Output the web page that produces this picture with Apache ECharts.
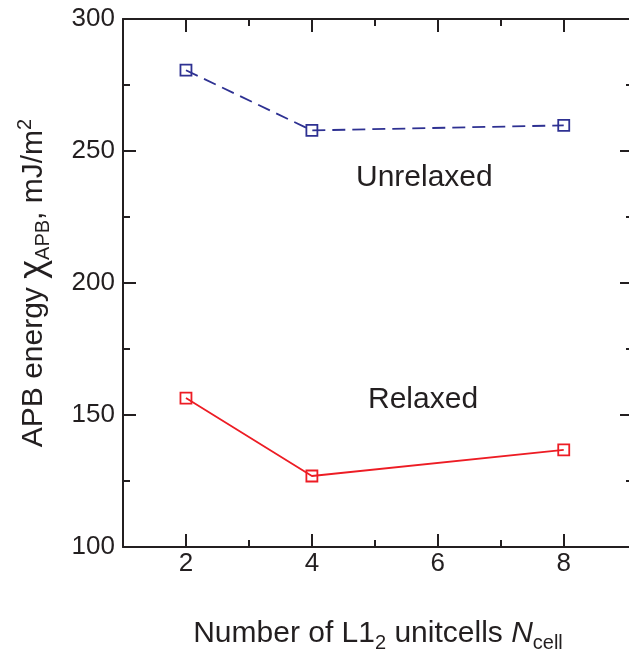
<!DOCTYPE html>
<html>
<head>
<meta charset="utf-8">
<script src="https://cdn.jsdelivr.net/npm/echarts@6/dist/echarts.min.js"></script>
<style>html,body{margin:0;padding:0;background:#fff}#c{width:629px;height:661px}</style>
</head>
<body>
<div id="c"></div>
<script>
var cells = [2, 4, 8];
var unrelaxed = [280.6, 257.8, 259.7];
var relaxed = [156.4, 126.9, 136.8];
var xMajorTicks = [2, 4, 6, 8];
var xMinorTicks = [3, 5, 7];
var yTicks = [100, 150, 200, 250, 300];

var ink = '#231f20';
var blue = '#2e3192';
var red = '#ed1c24';
var FONT = '"Liberation Sans", Arial, Helvetica, sans-serif';

function pairs(xs, ys) { return xs.map(function (x, i) { return [x, ys[i]]; }); }

var chart = echarts.init(document.getElementById('c'), null, {renderer: 'canvas'});

function xAx(pos, major, withLabel, withLine) {
  return {
    type: 'value', min: 1, max: 9.1, splitLine: {show: false},
    position: pos,
    axisLine: {show: withLine, onZero: false, lineStyle: {color: ink, width: 2}},
    axisTick: {show: true, inside: true, length: major ? 13 : 7, lineStyle: {color: ink, width: 2},
      customValues: major ? xMajorTicks : xMinorTicks},
    axisLabel: withLabel ? {show: true, customValues: xMajorTicks, fontSize: 26, color: ink, fontFamily: FONT, margin: 4} : {show: false}
  };
}
function yAx(pos, withLabel) {
  return {
    type: 'value', position: pos, min: 100, max: 300, interval: 50,
    splitLine: {show: false}, minorSplitLine: {show: false},
    axisLine: {show: true, onZero: false, lineStyle: {color: ink, width: 2}},
    axisTick: {show: true, inside: true, length: 13, lineStyle: {color: ink, width: 2}},
    minorTick: {show: true, splitNumber: 2, length: 7, lineStyle: {color: ink, width: 2}},
    axisLabel: withLabel ? {show: true, fontSize: 26, color: ink, fontFamily: FONT, margin: 8,
      customValues: yTicks} : {show: false}
  };
}

var xs = [xAx('bottom', true, true, true), xAx('bottom', false, false, false),
          xAx('top', true, false, true), xAx('top', false, false, false)];
xs[0].name = '{t|Number of L1}{s|2}{t| unitcells }{i|N}{s|cell}';
xs[0].nameLocation = 'middle';
xs[0].nameGap = 68;
xs[0].nameTextStyle = {
  color: ink, fontFamily: FONT,
  rich: {
    t: {fontSize: 30, lineHeight: 38, color: ink, fontFamily: FONT, verticalAlign: 'middle'},
    i: {fontSize: 30, lineHeight: 38, color: ink, fontFamily: FONT, fontStyle: 'italic', verticalAlign: 'middle'},
    s: {fontSize: 20, lineHeight: 21, color: ink, fontFamily: FONT, verticalAlign: 'bottom'}
  }
};

var ys = [yAx('left', true), yAx('right', false)];
ys[0].name = '{t|APB energy }{c|χ}{s|APB}{t|, mJ/m}{p|2}';
ys[0].nameLocation = 'middle';
ys[0].nameGap = 70;
ys[0].nameTextStyle = {
  color: ink, fontFamily: FONT,
  rich: {
    t: {fontSize: 30, lineHeight: 38, color: ink, fontFamily: FONT, verticalAlign: 'middle'},
    c: {fontSize: 36, lineHeight: 38, color: ink, fontFamily: FONT, verticalAlign: 'middle'},
    s: {fontSize: 20, lineHeight: 21, color: ink, fontFamily: FONT, verticalAlign: 'bottom'},
    p: {fontSize: 20, lineHeight: 21, color: ink, fontFamily: FONT, verticalAlign: 'top'}
  }
};

chart.setOption({
  animation: false,
  backgroundColor: '#fff',
  grid: {left: 123, right: -4, top: 19, bottom: 114, containLabel: false, outerBoundsMode: 'none'},
  xAxis: xs,
  yAxis: ys,
  series: [
    {
      type: 'line', name: 'Unrelaxed', xAxisIndex: 0, yAxisIndex: 0,
      data: pairs(cells, unrelaxed),
      symbol: 'rect', symbolSize: 11,
      lineStyle: {color: blue, width: 1.8, type: [13, 7]},
      itemStyle: {color: 'rgba(0,0,0,0)', borderColor: blue, borderWidth: 1.8}
    },
    {
      type: 'line', name: 'Relaxed', xAxisIndex: 0, yAxisIndex: 0,
      data: pairs(cells, relaxed),
      symbol: 'rect', symbolSize: 11,
      lineStyle: {color: red, width: 1.8},
      itemStyle: {color: 'rgba(0,0,0,0)', borderColor: red, borderWidth: 1.8}
    }
  ],
  graphic: [
    {type: 'text', left: 356, top: 163, style: {text: 'Unrelaxed', fontSize: 30, fill: ink, fontFamily: FONT}},
    {type: 'text', left: 368, top: 385, style: {text: 'Relaxed', fontSize: 30, fill: ink, fontFamily: FONT}}
  ]
});
</script>
</body>
</html>
